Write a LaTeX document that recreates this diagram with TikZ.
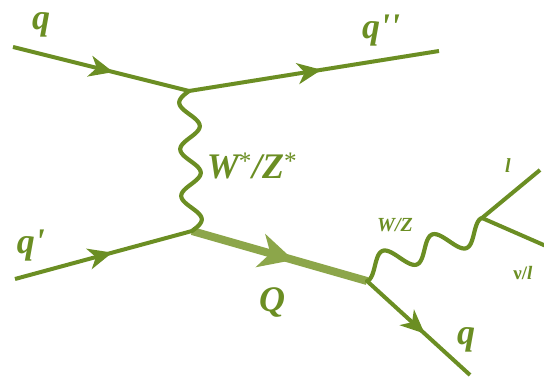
\documentclass[tikz,border=0pt]{standalone}
\usepackage{fontspec}
\setmainfont{Liberation Serif}
\usetikzlibrary{arrows.meta,decorations.markings,calc}
\definecolor{fg}{RGB}{107,142,35}
\definecolor{heavy}{RGB}{140,166,74}
\begin{document}
\begin{tikzpicture}[x=1pt,y=-1pt,
  fermion/.style={draw=fg,line width=4pt,postaction={decorate},
    decoration={markings,mark=at position #1 with {\arrow[fg]{Stealth[length=24pt,width=21pt,inset=7pt]}}}},
  heavyline/.style={draw=heavy,line width=8pt,postaction={decorate},
    decoration={markings,mark=at position #1 with {\arrow[heavy]{Stealth[length=34pt,width=34pt,inset=10pt]}}}},
  plainline/.style={draw=fg,line width=4pt},
  boson/.style={draw=fg,line width=4.2pt,line cap=round,line join=round},
  vtx/.style={coordinate},
  biglab/.style={text=fg,anchor=base,inner sep=0pt,font=\fontsize{36}{40}\selectfont\bfseries\itshape},
  midlab/.style={text=fg,anchor=base,inner sep=0pt,font=\fontsize{20}{22}\selectfont\bfseries\itshape},
]
\useasboundingbox (0,0) rectangle (544,379);
% vertices and ends
\node[vtx] (v1) at (189,91) {};
\node[vtx] (v2) at (192,231) {};
\node[vtx] (v3) at (367,281) {};
\node[vtx] (v4) at (482,218) {};
\node[vtx] (qin) at (13,47) {};
\node[vtx] (qout) at (439,51) {};
\node[vtx] (qpin) at (15,279) {};
\node[vtx] (qfout) at (470,375) {};
\node[vtx] (lend) at (540,170) {};
\node[vtx] (nuend) at (546,246) {};
% lines
\draw[fermion=0.57] (qin) -- (v1);
\draw[fermion=0.53] (v1) -- (qout);
\draw[fermion=0.55] (qpin) -- (v2);
\draw[heavyline=0.58] (v2) -- (v3);
\draw[fermion=0.56] (v3) -- (qfout);
\draw[plainline] (v4) -- (lend);
\draw[plainline] (v4) -- (nuend);
% W*/Z* propagator
\draw[boson] let \p1=(v1), \p2=(v2) in
  plot[variable=\t,domain=0:1,samples=121,smooth]
  ({(\x1)+((\x2)-(\x1))*\t-10pt*sin(1080*\t)},{(\y1)+((\y2)-(\y1))*\t});
% W/Z line
\draw[boson] let \p1=(v3), \p2=(v4) in
  plot[variable=\t,domain=0:1,samples=121,smooth]
  ({(\x1)-4.5pt+((\x2)-(\x1)+9pt)*\t+4.5pt*cos(900*\t)},
   {(\y1)+11pt+((\y2)-(\y1)-22pt)*\t-11pt*cos(900*\t)});
% labels
\node[biglab] (lq) at (41,30) {q};
\node[biglab] (lqpp) at (381,39) {q\textquotesingle\textquotesingle};
\node[biglab] (lqp) at (31,254) {q\textquotesingle};
\node[biglab] (lW) at (252,179) {W\textsuperscript{\fontseries{m}\upshape *}/Z\textsuperscript{\fontseries{m}\upshape *}};
\node[biglab] (lQ) at (272,312) {Q};
\node[biglab] (lqf) at (466,345) {q};
\node[midlab] (lWZ) at (395,232) {W/Z};
\node[midlab] (ll) at (508,173) {l};
\node[text=fg,anchor=base,inner sep=0pt,font=\fontsize{19}{21}\selectfont\bfseries] (lnu) at (523,280) {ν/\textit{l}};
\end{tikzpicture}
\end{document}
